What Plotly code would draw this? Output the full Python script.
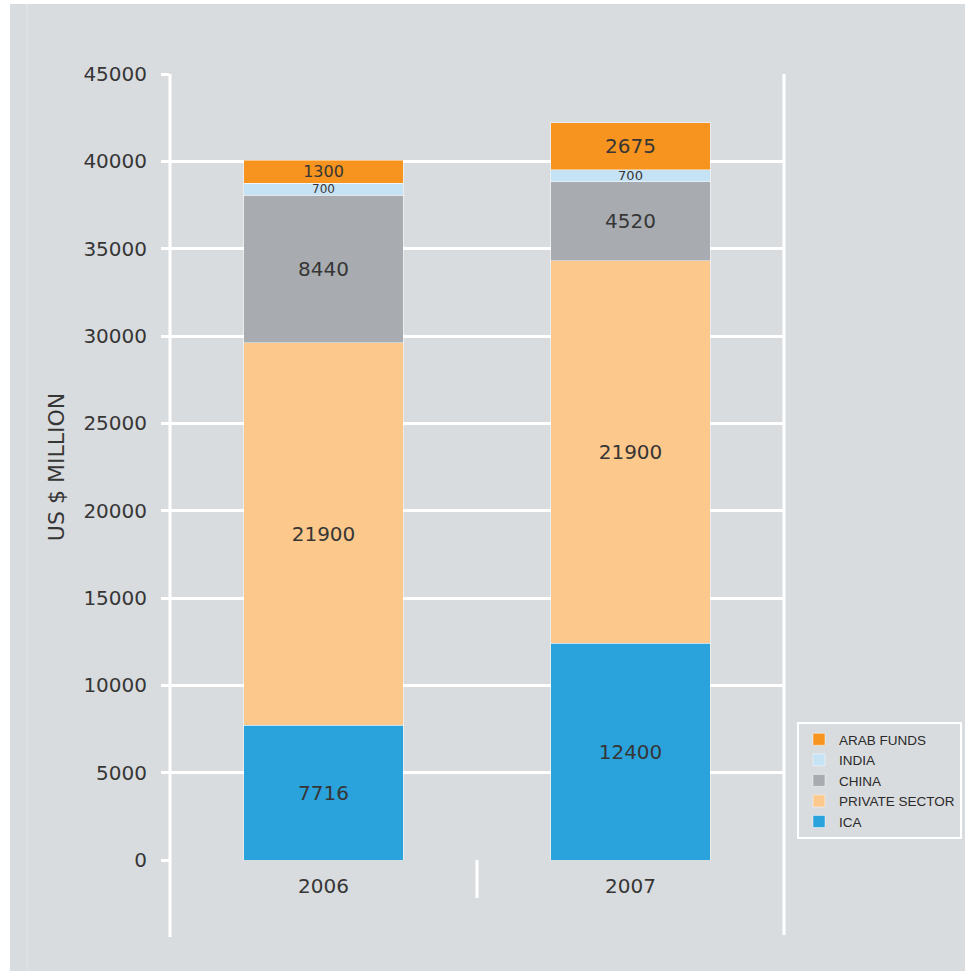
import plotly.graph_objects as go

years = ["2006", "2007"]
series_names = ["ICA", "PRIVATE SECTOR", "CHINA", "INDIA", "ARAB FUNDS"]
ica = [7716, 12400]
private_sector = [21900, 21900]
china = [8440, 4520]
india = [700, 700]
arab_funds = [1300, 2675]
y_ticks = [0, 5000, 10000, 15000, 20000, 25000, 30000, 35000, 40000, 45000]

values = [ica, private_sector, china, india, arab_funds]
colors = ["#2aa3dd", "#fcc88b", "#a8acb1", "#c6e2f5", "#f7941f"]
# label font size per bar segment (thin segments get smaller text)
label_sizes = [[20, 20], [20, 20], [20, 20], [12, 13], [16, 20]]

BG = "#d9dcdf"
FONT = "DejaVu Sans, Liberation Sans, Arial, sans-serif"
TXT = "#363636"

fig = go.Figure()
for name, vals, col, fs in zip(series_names, values, colors, label_sizes):
    fig.add_trace(go.Bar(
        x=years, y=vals, name=name,
        marker=dict(color=col, line=dict(color="rgba(255,255,255,0.45)", width=1)),
        text=[str(v) for v in vals],
        textposition="inside", insidetextanchor="middle",
        constraintext="none",
        textfont=dict(family=FONT, size=fs, color=TXT),
        width=0.52,
    ))

# plot geometry in pixels (used to place the frame decorations)
L, R, T, B = 170, 784, 74, 860
W, H = 965, 971
def px_x(p):
    return (p - L) / (R - L)
def px_y(p):
    return (B - p) / (B - T)

shapes = [
    # white outer strips
    dict(type="rect", xref="paper", yref="paper", x0=px_x(0), x1=px_x(10), y0=px_y(971), y1=px_y(0),
         fillcolor="white", line=dict(width=0), layer="below"),
    dict(type="rect", xref="paper", yref="paper", x0=px_x(0), x1=px_x(965), y0=px_y(4), y1=px_y(0),
         fillcolor="white", line=dict(width=0), layer="below"),
    # faint inner frame line
    dict(type="line", xref="paper", yref="paper", x0=px_x(27), x1=px_x(27), y0=px_y(971), y1=px_y(4),
         line=dict(color="#e2e4e6", width=1), layer="below"),
    # vertical white frame lines
    dict(type="line", xref="paper", yref="paper", x0=0, x1=0, y0=px_y(937), y1=1,
         line=dict(color="white", width=3), layer="below"),
    dict(type="line", xref="paper", yref="paper", x0=1, x1=1, y0=px_y(935), y1=1,
         line=dict(color="white", width=3), layer="below"),
    dict(type="line", xref="paper", yref="paper", x0=0.5, x1=0.5, y0=px_y(898), y1=0,
         line=dict(color="white", width=3), layer="below"),
]

fig.update_layout(
    width=W, height=H,
    margin=dict(l=L, r=W - R, t=T, b=H - B, autoexpand=False),
    paper_bgcolor=BG, plot_bgcolor="rgba(0,0,0,0)",
    barmode="stack",
    font=dict(family=FONT, color=TXT),
    shapes=shapes,
    xaxis=dict(
        showgrid=False, zeroline=False, showline=False,
        ticks="", tickfont=dict(size=20, color=TXT),
        ticklabelstandoff=12,
    ),
    yaxis=dict(
        range=[0, 45000], tickvals=y_ticks,
        ticktext=[str(v) for v in y_ticks],
        showgrid=True, gridcolor="white", gridwidth=3,
        zeroline=False, showline=False,
        ticks="outside", ticklen=8, tickcolor="white", tickwidth=3,
        tickfont=dict(size=20, color=TXT),
        ticklabelstandoff=10,
        title=dict(text="US $ MILLION", font=dict(size=22, color=TXT), standoff=12),
    ),
    legend=dict(
        x=px_x(797), y=px_y(722), xanchor="left", yanchor="top",
        traceorder="reversed",
        bgcolor=BG, bordercolor="white", borderwidth=2,
        font=dict(family="Liberation Sans Narrow, Arial Narrow, sans-serif", size=13.5, color="#2a2a2a"),
        itemwidth=30, tracegroupgap=0,
    ),
)

fig.write_html("out.html")
